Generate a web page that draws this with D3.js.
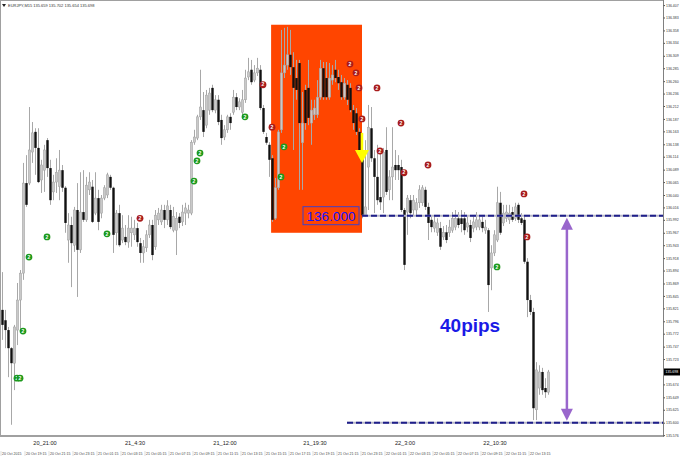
<!DOCTYPE html>
<html><head><meta charset="utf-8">
<script src="https://cdn.jsdelivr.net/npm/d3@7"></script>
<style>html,body{margin:0;padding:0;background:#fff;}svg{display:block;font-family:"Liberation Sans",Arial,sans-serif;}</style>
</head><body><svg id="c" width="680" height="457"></svg>
<script>
// ---- data (EURJPY, M15) ----
const openP=[135.818,135.798,135.779,135.744,135.715,135.779,135.837,135.889,136.063,136.063,
136.123,136.162,136.131,136.069,136.088,136.146,136.092,136.046,136.065,136.056,
136.088,136.054,135.953,135.982,135.943,136.011,135.934,136.007,135.992,136.050,
136.056,136.005,136.034,136.005,136.034,136.040,136.075,136.054,135.967,136.005,
135.953,135.959,135.949,135.967,135.963,135.976,135.947,135.928,135.938,135.963,
135.982,135.940,135.992,135.988,136.011,135.992,136.011,135.972,135.972,135.998,
135.988,136.005,136.005,136.005,136.142,136.150,136.191,136.204,136.175,136.204,
136.247,136.204,136.224,136.185,136.152,136.166,136.191,136.200,136.229,136.210,
136.200,136.224,136.268,136.282,136.262,136.276,136.282,136.208,136.152,136.137,
136.111,135.995,136.054,136.166,136.276,136.291,136.311,136.287,136.266,136.295,
136.141,136.243,136.247,136.179,136.195,136.195,136.229,136.285,136.266,136.229,
136.262,136.282,136.268,136.258,136.229,136.253,136.247,136.204,136.198,136.162,
136.121,136.001,136.094,136.169,136.111,136.075,136.036,136.036,136.127,136.050,
136.075,136.098,136.098,136.094,136.011,136.007,136.030,136.011,136.011,136.025,
136.025,136.050,136.017,135.992,135.976,135.968,135.976,135.959,135.968,135.967,
135.972,135.978,135.995,135.995,135.995,135.978,135.982,135.976,135.978,135.978,
135.988,135.972,135.972,135.899,135.928,135.953,136.025,135.986,135.995,135.992,
136.007,135.995,136.021,135.995,135.992,135.911,135.837,135.814,135.625,135.667,
135.698,135.667,135.659];
const highP=[135.891,135.818,135.785,135.746,135.789,135.870,135.895,136.102,136.117,136.210,
136.181,136.169,136.169,136.108,136.137,136.150,136.108,136.079,136.111,136.127,
136.098,136.057,136.005,135.998,136.017,136.063,136.084,136.088,136.075,136.084,
136.069,136.084,136.050,136.040,136.059,136.083,136.079,136.056,136.011,136.021,
136.001,135.982,136.001,135.998,135.992,135.986,135.957,135.953,135.972,135.992,
135.992,136.011,136.015,136.021,136.021,136.030,136.021,136.017,136.007,136.005,
136.021,136.025,136.021,136.146,136.166,136.195,136.282,136.239,136.243,136.247,
136.253,136.233,136.233,136.195,136.175,136.195,136.198,136.243,136.237,136.227,
136.243,136.282,136.305,136.301,136.291,136.305,136.291,136.214,136.160,136.142,
136.117,136.073,136.166,136.359,136.363,136.365,136.359,136.316,136.301,136.301,
136.239,136.253,136.301,136.224,136.224,136.262,136.301,136.297,136.297,136.295,
136.291,136.301,136.282,136.272,136.266,136.262,136.256,136.214,136.208,136.169,
136.127,136.146,136.214,136.210,136.127,136.137,136.127,136.131,136.171,136.088,
136.171,136.127,136.117,136.108,136.015,136.040,136.040,136.040,136.034,136.059,
136.059,136.056,136.025,136.001,136.001,135.995,135.988,135.980,135.982,135.992,
136.007,136.011,136.007,136.011,136.007,136.001,135.992,136.001,136.007,136.001,
136.001,135.992,135.976,135.943,135.972,136.056,136.046,136.021,136.021,136.021,
136.017,136.025,136.025,136.005,136.001,135.918,135.847,135.822,135.717,135.711,
135.706,135.686,135.702];
const lowP=[135.760,135.744,135.688,135.596,135.663,135.750,135.779,135.876,136.017,136.059,
136.102,136.079,136.063,136.044,136.046,136.075,136.021,136.030,136.044,136.030,
136.046,135.967,135.909,135.862,135.930,135.843,135.928,135.988,135.988,136.040,
135.986,136.001,135.972,135.995,136.030,136.034,136.050,135.928,135.943,135.940,
135.947,135.943,135.938,135.940,135.953,135.940,135.909,135.909,135.930,135.957,
135.914,135.934,135.982,135.982,135.976,135.982,135.974,135.968,135.924,135.976,
135.980,135.982,135.995,136.001,136.137,136.146,136.185,136.152,136.169,136.195,
136.200,136.198,136.175,136.137,136.146,136.160,136.166,136.195,136.204,136.204,
136.195,136.218,136.262,136.253,136.258,136.270,136.204,136.158,136.137,136.075,
135.988,135.992,136.050,136.160,136.266,136.282,136.272,136.127,136.224,136.050,
136.050,136.166,136.175,136.137,136.185,136.189,136.224,136.224,136.224,136.224,
136.253,136.258,136.243,136.224,136.224,136.214,136.200,136.166,136.156,136.117,
135.995,135.998,136.011,136.104,136.005,136.021,136.011,136.005,136.040,136.030,
136.030,136.069,136.069,136.007,135.895,135.963,135.995,136.001,136.001,136.015,
136.019,136.011,135.953,135.968,135.968,135.961,135.934,135.953,135.947,135.959,
135.967,135.972,135.976,135.968,135.963,135.968,135.949,135.968,135.972,135.972,
135.968,135.965,135.814,135.856,135.922,135.949,135.963,135.980,135.988,135.984,
135.988,135.990,135.986,135.982,135.907,135.804,135.808,135.605,135.605,135.654,
135.654,135.648,135.654];
const closeP=[135.789,135.779,135.744,135.715,135.785,135.837,135.889,136.063,136.021,136.127,
136.160,136.131,136.065,136.098,136.127,136.092,136.030,136.065,136.084,136.088,
136.054,135.986,135.982,135.947,136.011,135.934,136.007,135.992,136.059,136.065,
135.988,136.034,135.988,136.034,136.054,136.079,136.054,135.963,136.005,135.943,
135.976,135.949,135.976,135.976,135.976,135.949,135.928,135.940,135.963,135.982,
135.924,136.001,136.005,136.011,135.992,136.019,135.978,135.998,135.995,135.986,
136.007,136.015,136.011,136.142,136.152,136.191,136.210,136.162,136.233,136.237,
136.204,136.224,136.181,136.150,136.166,136.191,136.179,136.229,136.210,136.220,
136.224,136.266,136.278,136.258,136.276,136.285,136.208,136.162,136.141,136.108,
135.992,136.054,136.162,136.276,136.291,136.311,136.287,136.247,136.243,136.179,
136.179,136.179,136.189,136.204,136.208,136.229,136.285,136.229,136.229,136.266,
136.272,136.266,136.256,136.229,136.256,136.224,136.204,136.179,136.162,136.121,
136.001,136.017,136.171,136.111,136.075,136.030,136.026,136.123,136.046,136.075,
136.094,136.088,136.088,136.011,135.905,136.034,136.005,136.030,136.025,136.050,
136.054,136.017,135.986,135.978,135.988,135.986,135.940,135.968,135.953,135.978,
135.995,135.995,135.982,135.984,135.972,135.986,135.957,135.988,135.992,135.992,
135.976,135.978,135.866,135.928,135.963,136.025,135.967,136.005,136.007,136.005,
135.992,136.017,135.992,135.986,135.911,135.837,135.814,135.628,135.702,135.698,
135.663,135.659,135.698];

const greenBars=[5,6,7,9,15,35,64,65,66,81,93,94,165];
const greenPrices=[135.686,135.686,135.777,135.920,135.959,135.965,136.067,136.106,136.121,136.191,136.075,136.133,135.901];
const redBars=[46,87,90,116,118,119,120,125,126,133,134,142,174,175];
const redPrices=[135.995,136.253,136.171,136.293,136.276,136.247,136.187,136.247,136.125,136.179,136.083,136.098,136.042,135.959];

const priceTicks=[136.407,136.383,136.358,136.334,136.309,136.285,136.260,136.236,136.212,136.187,136.163,136.138,136.114,136.089,136.065,136.040,136.016,135.992,135.967,135.943,135.918,135.894,135.869,135.845,135.821,135.796,135.772,135.747,135.723,135.674,135.649,135.625,135.600,135.576];
const currentPrice=135.698;

const majorTimeLabels=["20_21:00","21_4:30","21_12:00","21_19:30","22_3:00","22_10:30"];
const majorTimeBars=[15,45,75,105,135,165];
const dateLabels=["20 Oct 2015","20 Oct 19:15","20 Oct 21:15","20 Oct 23:15","21 Oct 01:15","21 Oct 03:15","21 Oct 05:15","21 Oct 07:15","21 Oct 09:15","21 Oct 11:15","21 Oct 13:15","21 Oct 15:15","21 Oct 17:15","21 Oct 19:15","21 Oct 21:15","21 Oct 23:15","22 Oct 01:15","22 Oct 03:15","22 Oct 05:15","22 Oct 07:15","22 Oct 09:15","22 Oct 11:15","22 Oct 13:15"];
const dateBars=[0,8,16,24,32,40,48,56,64,72,80,88,96,104,112,120,128,136,144,152,160,168,176];

// annotations
const zoneBars=[89.7,120];
const zonePrices=[136.369,135.967];
const levelPrice=136.000, targetPrice=135.600;
const levelStartBar=120, targetStartBar=115;
const levelLabel="136.000", levelLabelBar=119;
const arrowBar=120, arrowPrices=[136.160,136.127,136.102];
const pipsBar=188.3, pipsText="40pips", pipsTextBar=146, pipsTextPrice=135.775;
const titleText="EURJPY,M15  135.659 135.702 135.654 135.698";

// ---- drawing ----
const W=680,H=457, plotR=663, plotB=436;
const svg=d3.select("#c");
const x=d3.scaleLinear().domain([0,182]).range([2,548]);
const y=d3.scaleLinear().domain([135.6,136.0]).range([422.7,215.7]);

svg.append("defs").append("clipPath").attr("id","pc").append("rect").attr("x",0).attr("y",0).attr("width",plotR).attr("height",plotB);
const plot=svg.append("g").attr("clip-path","url(#pc)");

// orange zone
plot.append("rect").attr("x",x(zoneBars[0])).attr("y",y(zonePrices[0]))
 .attr("width",x(zoneBars[1])-x(zoneBars[0])).attr("height",y(zonePrices[1])-y(zonePrices[0]))
 .attr("fill","#ff4500");

const bars=d3.range(openP.length).map(i=>({i,o:openP[i],h:highP[i],l:lowP[i],c:closeP[i]}));
plot.append("g").selectAll("line").data(bars).join("line")
 .attr("x1",d=>x(d.i)+0.5).attr("x2",d=>x(d.i)+0.5).attr("y1",d=>y(d.h)).attr("y2",d=>y(d.l))
 .attr("stroke","#a8a8a8").attr("stroke-width",1);
plot.append("g").selectAll("rect").data(bars).join("rect")
 .attr("x",d=>x(d.i)-0.7).attr("width",2.4)
 .attr("y",d=>y(Math.max(d.o,d.c))).attr("height",d=>Math.max(1,Math.abs(y(d.o)-y(d.c))))
 .attr("fill",d=>d.c>=d.o?"#c9c9c9":"#111")
 .attr("stroke",d=>d.c>=d.o?"#a0a0a0":"none").attr("stroke-width",0.5);

// level lines
function level(p,b){
  plot.append("line").attr("x1",x(b)).attr("x2",plotR).attr("y1",y(p)).attr("y2",y(p)).attr("stroke","#b8b8c8").attr("stroke-width",2);
  plot.append("line").attr("x1",x(b)).attr("x2",plotR).attr("y1",y(p)).attr("y2",y(p)).attr("stroke","#1f1f8a").attr("stroke-width",2).attr("stroke-dasharray","6,3");
}
level(levelPrice,levelStartBar);
level(targetPrice,targetStartBar);

// level label
const lx=x(levelLabelBar), ly=y(levelPrice);
plot.append("rect").attr("x",lx-56).attr("y",ly-9).attr("width",56).attr("height",18).attr("fill","none").attr("stroke","#4040c8").attr("stroke-width",1);
plot.append("text").attr("x",lx-28).attr("y",ly+5).attr("text-anchor","middle").attr("font-size",13.5).attr("fill","#1414ff").text(levelLabel);

// yellow arrow
const ax=x(arrowBar);
plot.append("line").attr("x1",ax).attr("x2",ax).attr("y1",y(arrowPrices[0])).attr("y2",y(arrowPrices[1])).attr("stroke","#ffff00").attr("stroke-width",2.5);
plot.append("path").attr("d",`M${ax-7},${y(arrowPrices[1])}L${ax+7},${y(arrowPrices[1])}L${ax},${y(arrowPrices[2])}Z`).attr("fill","#ffff00");

// markers
function markers(bs,ps,col){
  const g=plot.append("g");
  bs.forEach((b,k)=>{
    g.append("circle").attr("cx",x(b)).attr("cy",y(ps[k])).attr("r",3.4).attr("fill",col);
    g.append("text").attr("x",x(b)).attr("y",y(ps[k])+1.7).attr("text-anchor","middle").attr("font-size",5).attr("font-weight","bold").attr("fill","#fff").text("2");
  });
}
markers(greenBars,greenPrices,"#1d9a1d");
markers(redBars,redPrices,"#a81c1c");

// purple double arrow
const px=x(pipsBar), pt=y(levelPrice)+2, pb=y(targetPrice)-2;
plot.append("line").attr("x1",px).attr("x2",px).attr("y1",pt+8).attr("y2",pb-8).attr("stroke","#9966cc").attr("stroke-width",2.5);
plot.append("path").attr("d",`M${px},${pt}L${px-6},${pt+12}L${px+6},${pt+12}Z`).attr("fill","#9966cc");
plot.append("path").attr("d",`M${px},${pb}L${px-6},${pb-12}L${px+6},${pb-12}Z`).attr("fill","#9966cc");
plot.append("text").attr("x",x(pipsTextBar)).attr("y",y(pipsTextPrice)).attr("font-size",19).attr("font-weight","bold").attr("fill","#1a1ae6").text(pipsText);

// frame
svg.append("line").attr("x1",0).attr("x2",plotR).attr("y1",0.5).attr("y2",0.5).attr("stroke","#a0a0a0");
svg.append("line").attr("x1",0.5).attr("x2",0.5).attr("y1",0).attr("y2",plotB).attr("stroke","#a0a0a0");
svg.append("line").attr("x1",0).attr("x2",plotR).attr("y1",plotB).attr("y2",plotB).attr("stroke","#a0a0a0").attr("stroke-width",2);
svg.append("line").attr("x1",plotR+0.5).attr("x2",plotR+0.5).attr("y1",0).attr("y2",plotB+1).attr("stroke","#808080");

// right price axis
const ag=svg.append("g").attr("transform",`translate(${plotR+0.5},0)`)
 .call(d3.axisRight(y).tickValues(priceTicks).tickFormat(d3.format(".3f")).tickSize(1.5).tickPadding(1));
ag.select(".domain").remove();
ag.selectAll("text").attr("font-size",3.5).attr("fill","#333").attr("font-family","Liberation Sans, Arial, sans-serif");
ag.selectAll("line").attr("stroke","#555");
const cy=y(currentPrice);
svg.append("rect").attr("x",plotR+1).attr("y",cy-3.5).attr("width",W-plotR-1).attr("height",7).attr("fill","#000");
svg.append("text").attr("x",plotR+2.5).attr("y",cy+1.3).attr("font-size",3.5).attr("fill","#fff").text(d3.format(".3f")(currentPrice));

// time axis
const tg=svg.append("g");
majorTimeLabels.forEach((t,k)=>{
  tg.append("text").attr("x",x(majorTimeBars[k])-2).attr("y",445).attr("text-anchor","middle").attr("font-size",5.6).attr("fill","#222").text(t);
});
dateLabels.forEach((t,k)=>{
  tg.append("text").attr("x",x(dateBars[k])).attr("y",455).attr("font-size",3.6).attr("fill","#444").text(t);
  tg.append("line").attr("x1",x(dateBars[k])-1).attr("x2",x(dateBars[k])-1).attr("y1",451).attr("y2",456).attr("stroke","#bbb").attr("stroke-width",0.5);
});

// title
svg.append("path").attr("d","M2,4L6,4L4,7Z").attr("fill","#222");
svg.append("text").attr("x",8).attr("y",6.8).attr("font-size",4).attr("fill","#333").text(titleText);
</script></body></html>
